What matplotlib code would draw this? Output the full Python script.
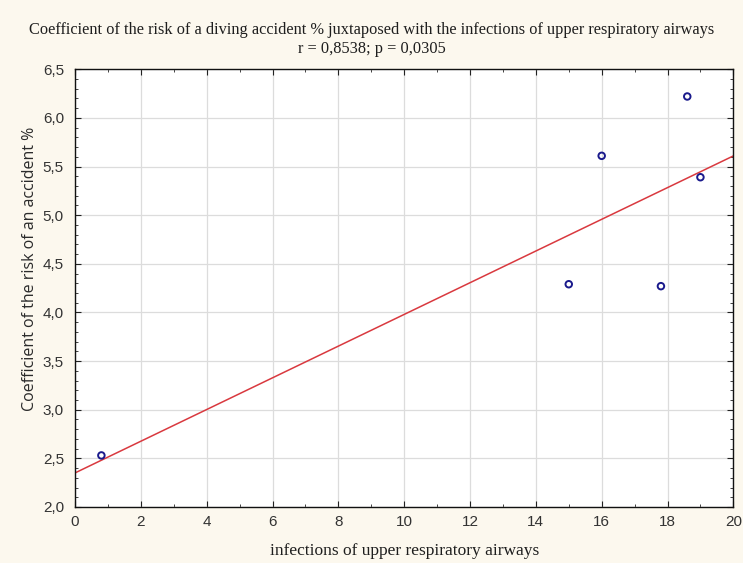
import numpy as np
import matplotlib
matplotlib.use("Agg")
import matplotlib.pyplot as plt
from matplotlib.ticker import FuncFormatter, MultipleLocator

# infections of upper respiratory airways vs risk coefficient
infections = [0.8, 15.0, 16.0, 17.8, 18.6, 19.0]
risk_coef = [2.53, 4.29, 5.61, 4.27, 6.22, 5.39]

x_ticks = [0, 2, 4, 6, 8, 10, 12, 14, 16, 18, 20]
y_ticks = [2.0, 2.5, 3.0, 3.5, 4.0, 4.5, 5.0, 5.5, 6.0, 6.5]

bg = "#fcf8ee"

fig = plt.figure(figsize=(7.43, 5.63), dpi=100, facecolor=bg)
ax = fig.add_axes([0.101, 0.0995, 0.886, 0.7775])
ax.set_facecolor("white")

# regression line
slope, intercept = np.polyfit(infections, risk_coef, 1)
xl = np.array([0, 20])
ax.plot(xl, intercept + slope * xl, color="#d9393f", linewidth=1.1, zorder=2)

ax.scatter(infections, risk_coef, s=22, facecolors="none", edgecolors="#1a1a8c",
           linewidths=1.4, zorder=3)

ax.set_xlim(0, 20)
ax.set_ylim(2.0, 6.5)
ax.set_xticks(x_ticks)
ax.set_yticks(y_ticks)
ax.xaxis.set_minor_locator(MultipleLocator(1))
ax.yaxis.set_minor_locator(MultipleLocator(0.1))
ax.yaxis.set_major_formatter(FuncFormatter(lambda v, p: f"{v:.1f}".replace(".", ",")))
ax.grid(True, which="major", color="#dcdcdc", linewidth=0.9)
ax.set_axisbelow(True)

ax.tick_params(which="both", direction="in", top=True, right=True,
               labelsize=11, colors="#222222", labelcolor="#333333")
ax.tick_params(which="major", length=4)
ax.tick_params(axis="y", which="major", pad=8)
ax.tick_params(axis="x", which="major", pad=6)
ax.tick_params(which="minor", length=2)
for lab in ax.get_xticklabels() + ax.get_yticklabels():
    lab.set_family(["Liberation Sans", "DejaVu Sans"])
for s in ax.spines.values():
    s.set_color("#111111")
    s.set_linewidth(1.0)

fig.text(0.5, 0.947, "Coefficient of the risk of a diving accident % juxtaposed with the infections of upper respiratory airways",
         ha="center", va="center", fontsize=11.8, family="Liberation Serif",
         color="#1e1e1e")
fig.text(0.5, 0.913, "r = 0,8538; p = 0,0305", ha="center", va="center",
         fontsize=11.8, family="Liberation Serif", color="#1e1e1e")

ax.set_xlabel("infections of upper respiratory airways", fontsize=12.5,
              family="Liberation Serif", color="#1e1e1e", labelpad=10)
ax.set_ylabel("Coefficient of the risk of an accident %", fontsize=11.5,
              family="Open Sans", color="#2a2a2a")
ax.yaxis.set_label_coords(-0.056, 0.545)

fig.savefig("out.png", dpi=100, facecolor=bg)
